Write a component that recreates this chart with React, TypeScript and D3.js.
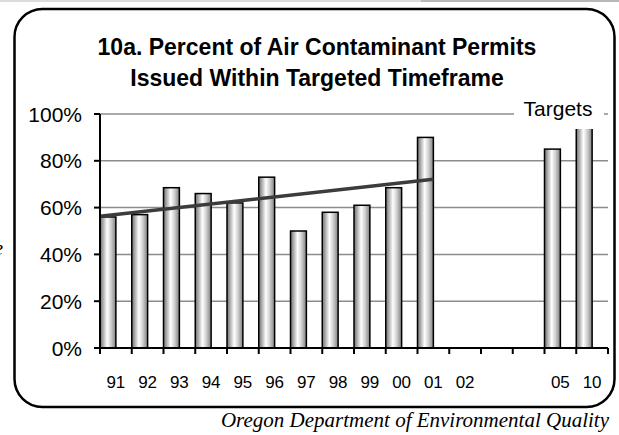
import React, { useRef, useEffect } from "react";
import * as d3 from "d3";

const years = ["91", "92", "93", "94", "95", "96", "97", "98", "99", "00", "01", "02", "03", "04", "05", "10"];
const tickLabels = ["91", "92", "93", "94", "95", "96", "97", "98", "99", "00", "01", "02", "", "", "05", "10"];
const percents = [56, 57, 68.5, 66, 62, 73, 50, 58, 61, 68.5, 90, null, null, null, 85, 95];
const yTicks = [0, 20, 40, 60, 80, 100];
const actualCount = 11; // 91..01 are actuals, trend is fit on these

const App = () => {
  const ref = useRef(null);
  const width = 619;
  const height = 435;
  const left = 100;
  const right = 608;
  const top = 114;
  const bottom = 348;

  useEffect(() => {
    const svg = d3.select(ref.current);
    svg.selectAll("*").remove();

    const x = d3.scaleBand().domain(years).range([left, right]).padding(0);
    const y = d3.scaleLinear().domain([0, 100]).range([bottom, top]);
    const bw = x.bandwidth();

    const defs = svg.append("defs");
    const grad = defs.append("linearGradient").attr("id", "barfill").attr("x1", "0").attr("x2", "1").attr("y1", "0").attr("y2", "0");
    [
      [0, "#6e6e6e"],
      [0.22, "#b4b4b4"],
      [0.45, "#ffffff"],
      [0.68, "#d2d2d2"],
      [1, "#808080"],
    ].forEach(([o, c]) => grad.append("stop").attr("offset", o).attr("stop-color", c));

    svg.append("rect").attr("width", width).attr("height", height).attr("fill", "#fff");
    // strip at top of the page
    svg.append("rect").attr("x", 0).attr("y", 0).attr("width", 421).attr("height", 2).attr("fill", "#dcdcdc");
    svg.append("rect").attr("x", 421).attr("y", 0).attr("width", 198).attr("height", 2).attr("fill", "#b8b8b8");

    svg
      .append("rect")
      .attr("x", 14.5)
      .attr("y", 9)
      .attr("width", 600)
      .attr("height", 398)
      .attr("rx", 28)
      .attr("fill", "#fff")
      .attr("stroke", "#000")
      .attr("stroke-width", 2.5);

    const title = svg
      .append("text")
      .attr("text-anchor", "middle")
      .attr("font-family", "Arial, 'Liberation Sans', sans-serif")
      .attr("font-weight", "bold")
      .attr("font-size", 23)
      .attr("fill", "#000");
    title.append("tspan").attr("x", 317).attr("y", 55).text("10a. Percent of Air Contaminant Permits");
    title.append("tspan").attr("x", 317).attr("y", 86).text("Issued Within Targeted Timeframe");

    // gridlines
    svg
      .append("g")
      .selectAll("line")
      .data(yTicks.filter(d => d > 0))
      .enter()
      .append("line")
      .attr("x1", left)
      .attr("x2", right)
      .attr("y1", d => y(d))
      .attr("y2", d => y(d))
      .attr("stroke", "#8c8c8c")
      .attr("stroke-width", 1.5);

    // bars
    svg
      .append("g")
      .selectAll("rect")
      .data(years.map((k, i) => ({ k, v: percents[i] })).filter(d => d.v !== null))
      .enter()
      .append("rect")
      .attr("x", d => x(d.k))
      .attr("y", d => y(d.v))
      .attr("width", bw / 2)
      .attr("height", d => y(0) - y(d.v))
      .attr("fill", "url(#barfill)")
      .attr("stroke", "#000")
      .attr("stroke-width", 1.5);

    // label box covers the top gridline and the top of the 2010 bar, as in the original
    svg.append("rect").attr("x", 514).attr("y", 98).attr("width", 90).attr("height", 31).attr("fill", "#fff");
    svg
      .append("text")
      .attr("x", 558)
      .attr("y", 116)
      .attr("text-anchor", "middle")
      .attr("font-family", "Arial, 'Liberation Sans', sans-serif")
      .attr("font-size", 21)
      .text("Targets");

    // linear trend over the actual years
    const xs = d3.range(actualCount);
    const ys = percents.slice(0, actualCount);
    const mx = d3.mean(xs);
    const my = d3.mean(ys);
    const slope = d3.sum(xs, (xi, i) => (xi - mx) * (ys[i] - my)) / d3.sum(xs, xi => (xi - mx) ** 2);
    const fit = t => my + slope * (t - mx);
    const pos = t => left + (t + 0.5) * bw;
    svg
      .append("line")
      .attr("x1", pos(-0.5))
      .attr("y1", y(fit(-0.5)))
      .attr("x2", pos(actualCount - 1))
      .attr("y2", y(fit(actualCount - 1)))
      .attr("stroke", "#3c3c3c")
      .attr("stroke-width", 3.5);

    // y axis
    svg.append("line").attr("x1", left).attr("x2", left).attr("y1", top).attr("y2", bottom).attr("stroke", "#000").attr("stroke-width", 2);
    const yg = svg.append("g");
    yg.selectAll("line")
      .data(yTicks)
      .enter()
      .append("line")
      .attr("x1", left - 6)
      .attr("x2", left)
      .attr("y1", d => y(d))
      .attr("y2", d => y(d))
      .attr("stroke", "#000")
      .attr("stroke-width", 2);
    yg.selectAll("text")
      .data(yTicks)
      .enter()
      .append("text")
      .attr("x", 82)
      .attr("y", d => y(d))
      .attr("dy", "0.36em")
      .attr("text-anchor", "end")
      .attr("font-family", "Arial, 'Liberation Sans', sans-serif")
      .attr("font-size", 21)
      .text(d => d + "%");

    // x axis
    svg.append("line").attr("x1", left).attr("x2", right).attr("y1", bottom).attr("y2", bottom).attr("stroke", "#000").attr("stroke-width", 2);
    const bounds = years.map(k => x(k)).concat([right]);
    svg
      .append("g")
      .selectAll("line")
      .data(bounds)
      .enter()
      .append("line")
      .attr("x1", d => d)
      .attr("x2", d => d)
      .attr("y1", bottom)
      .attr("y2", bottom + 6)
      .attr("stroke", "#000")
      .attr("stroke-width", 2);
    svg
      .append("g")
      .selectAll("text")
      .data(years.map((k, i) => ({ k, label: tickLabels[i] })))
      .enter()
      .append("text")
      .attr("x", d => x(d.k) + bw / 2)
      .attr("y", 388)
      .attr("text-anchor", "middle")
      .attr("font-family", "Arial, 'Liberation Sans', sans-serif")
      .attr("font-size", 17)
      .text(d => d.label);

    svg
      .append("text")
      .attr("x", 609)
      .attr("y", 427)
      .attr("text-anchor", "end")
      .attr("font-family", "'Times New Roman', 'Liberation Serif', serif")
      .attr("font-style", "italic")
      .attr("font-size", 21)
      .text("Oregon Department of Environmental Quality");

    // clipped remnant of a letter at the left page edge
    svg
      .append("text")
      .attr("x", 3)
      .attr("y", 255)
      .attr("text-anchor", "end")
      .attr("font-family", "'Times New Roman', 'Liberation Serif', serif")
      .attr("font-style", "italic")
      .attr("font-size", 21)
      .text("e");
  }, []);

  return (
    <svg
      ref={ref}
      width={width}
      height={height}
      style={{ position: "absolute", left: 0, top: 0 }}
    />
  );
};

export default App;
